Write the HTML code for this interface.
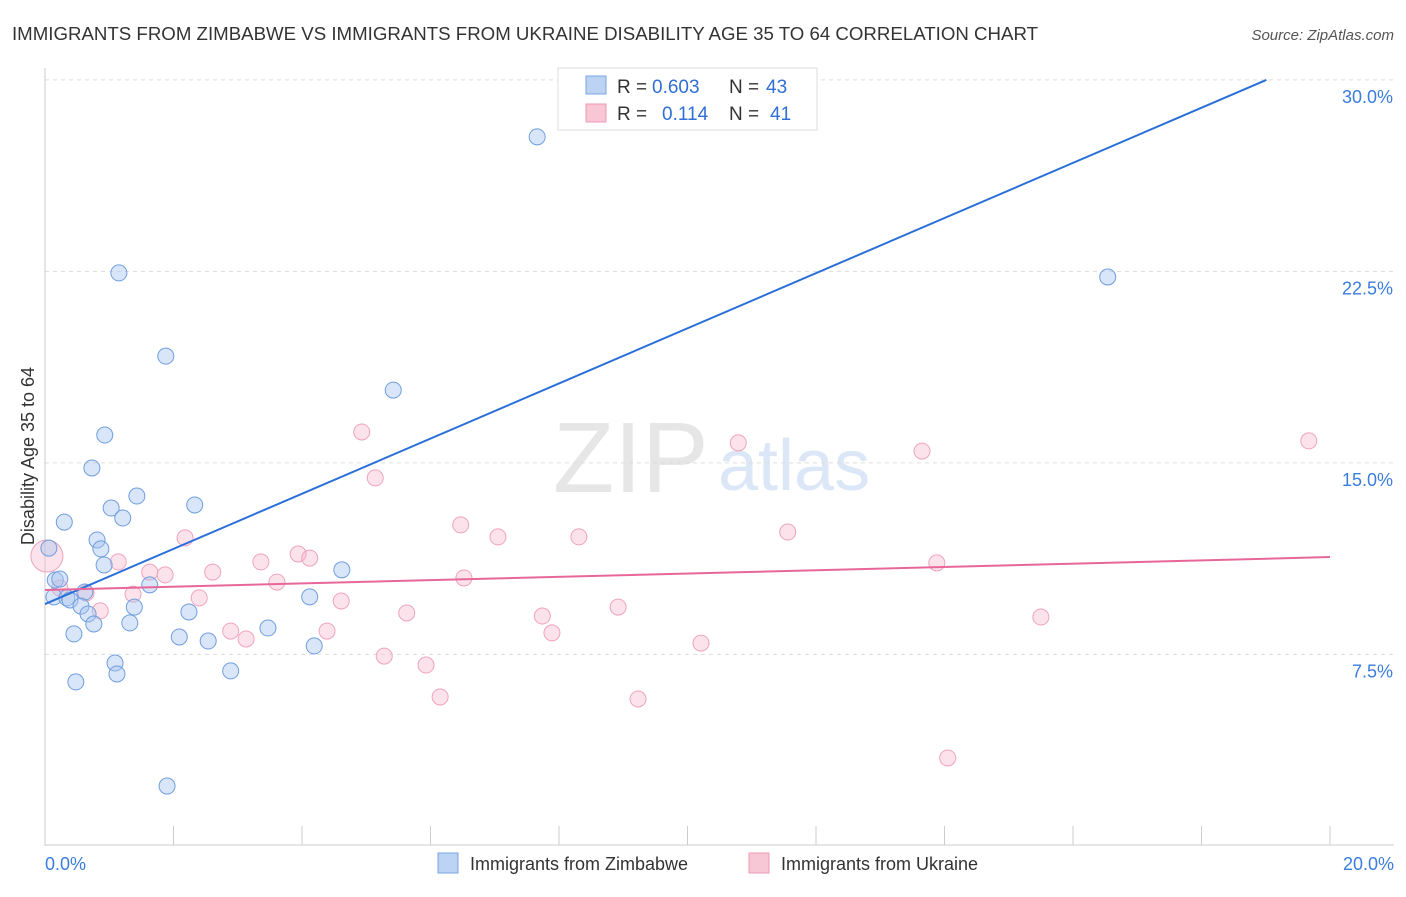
<!DOCTYPE html>
<html><head><meta charset="utf-8"><style>
body{margin:0;background:#fff;font-family:"Liberation Sans",sans-serif}
svg text{font-family:"Liberation Sans",sans-serif}
</style></head><body>
<svg id="c" width="1406" height="892">
<text x="12" y="40" font-size="18" fill="#333" textLength="1026" lengthAdjust="spacingAndGlyphs">IMMIGRANTS FROM ZIMBABWE VS IMMIGRANTS FROM UKRAINE DISABILITY AGE 35 TO 64 CORRELATION CHART</text>
<text x="1394" y="40" font-size="15" fill="#555" text-anchor="end" font-style="italic">Source: ZipAtlas.com</text>
<text x="553" y="492" font-size="100" fill="#e6e6e6" font-family="Liberation Serif">ZIP</text>
<text x="718" y="490" font-size="72" fill="#dbe7f7">atlas</text>
<text x="34" y="456" font-size="18" fill="#333" text-anchor="middle" transform="rotate(-90 34 456)">Disability Age 35 to 64</text>
<g id="grid"></g><g id="axes"></g><g id="pts"></g><g id="lines"></g>
<g>
<rect x="558" y="68" width="259" height="62" fill="#fff" stroke="#ddd"/>
<rect x="586" y="76" width="20" height="18" fill="#bcd3f3" stroke="#7aa6e3"/>
<rect x="586" y="104" width="20" height="18" fill="#f8c7d5" stroke="#ee9ab3"/>
<text x="617" y="93" font-size="19" fill="#333" xml:space="preserve">R = <tspan x="652" fill="#2f6fd6">0.603</tspan><tspan x="729">N =</tspan><tspan x="766" fill="#2f6fd6">43</tspan></text>
<text x="617" y="120" font-size="19" fill="#333" xml:space="preserve">R = <tspan x="662" fill="#2f6fd6">0.114</tspan><tspan x="729">N =</tspan><tspan x="770" fill="#2f6fd6">41</tspan></text>
</g>
<g>
<rect x="438" y="853" width="20" height="20" fill="#bcd3f3" stroke="#7aa6e3"/>
<text x="470" y="870" font-size="18" fill="#333">Immigrants from Zimbabwe</text>
<rect x="749" y="853" width="20" height="20" fill="#f8c7d5" stroke="#ee9ab3"/>
<text x="781" y="870" font-size="18" fill="#333">Immigrants from Ukraine</text>
</g>
</svg>
<script>
const blueX=[7.66,1.15,16.54,1.88,5.42,0.93,0.73,1.43,2.33,1.03,1.21,0.30,0.81,0.87,0.92,4.62,1.63,0.06,0.16,0.23,0.62,0.14,0.34,0.39,0.56,1.39,2.24,0.67,0.76,1.32,0.45,2.09,2.54,3.47,4.12,4.19,1.09,1.12,2.89,0.48,1.90,10.89];
const blueY=[27.77,22.44,22.28,19.18,17.85,16.09,14.80,13.70,13.35,13.23,12.84,12.68,11.98,11.63,11.00,10.81,10.22,11.66,10.41,10.45,9.94,9.75,9.71,9.63,9.39,9.35,9.16,9.08,8.69,8.73,8.30,8.18,8.02,8.53,9.75,7.83,7.16,6.73,6.85,6.42,2.34,29.84];
const pinkX=[4.93,5.14,10.79,13.65,19.67,6.47,7.05,8.31,11.56,2.18,3.94,4.12,3.36,1.14,13.88,1.63,1.87,2.61,6.52,3.61,0.03,0.23,0.64,1.37,2.40,4.61,5.63,7.74,8.92,0.86,2.89,3.13,4.39,7.89,10.21,5.28,5.93,6.15,9.23,15.50,14.05];
const pinkY=[16.21,14.41,15.78,15.46,15.86,12.57,12.10,12.10,12.29,12.06,11.43,11.27,11.12,11.12,11.08,10.72,10.61,10.72,10.49,10.33,11.35,10.10,9.90,9.86,9.71,9.59,9.12,9.00,9.35,9.20,8.41,8.10,8.41,8.34,7.94,7.43,7.08,5.83,5.75,8.96,3.44];
const yTicks=[7.5,15.0,22.5,30.0];
const xTickLabels=["0.0%","20.0%"];
const blueTrend=[9.47,1.08];  // intercept, slope
const pinkTrend=[10.02,0.0645];
const NS="http://www.w3.org/2000/svg";
const X=v=>45+v*64.25, Y=v=>845.8-v*25.53;
function mk(t,a,p){const e=document.createElementNS(NS,t);for(const k in a)e.setAttribute(k,a[k]);document.getElementById(p).appendChild(e);return e;}
yTicks.forEach(t=>{
 const l=mk('line',{x1:45,x2:1394,y1:Y(t),y2:Y(t),stroke:'#ddd','stroke-dasharray':'4,4'},'grid');
 
 
 const tx=mk('text',{x:1393,y:Y(t)+23,'font-size':18,fill:'#3b7ddd','text-anchor':'end'},'grid');
 tx.textContent=t.toFixed(1)+'%';
 
 
});
mk('line',{x1:45,x2:45,y1:68,y2:846,stroke:'#ccc'},'axes');
mk('line',{x1:45,x2:1394,y1:845,y2:845,stroke:'#ccc'},'axes');
for(let i=1;i<=10;i++){const l=mk('line',{x1:X(i*2),x2:X(i*2),y1:826,y2:845,stroke:'#ccc'},'axes');
 
 }
xTickLabels.forEach((s,i)=>{const t=mk('text',{x:i?1394:45,y:870,'font-size':18,fill:'#3b7ddd','text-anchor':i?'end':'start'},'axes');t.textContent=s;
 
 });
pinkX.forEach((v,i)=>{const c=mk('circle',{cx:X(v),cy:Y(pinkY[i]),r:i==20?16:8,fill:'rgba(246,176,198,0.35)',stroke:'#f0a3bb','stroke-width':1},'pts');
 
 });
blueX.forEach((v,i)=>{const c=mk('circle',{cx:X(v),cy:Y(blueY[i]),r:8,fill:'rgba(170,198,240,0.45)',stroke:'#6f9edf','stroke-width':1},'pts');
 
 });
const bx2=(30-blueTrend[0])/blueTrend[1];
const bl=mk('line',{x1:X(0),y1:Y(blueTrend[0]),x2:X(bx2),y2:Y(30),stroke:'#2a6fd8','stroke-width':2},'lines');


const pl=mk('line',{x1:X(0),y1:Y(pinkTrend[0]),x2:X(20),y2:Y(pinkTrend[0]+20*pinkTrend[1]),stroke:'#e8679a','stroke-width':2},'lines');


</script>
</body></html>
